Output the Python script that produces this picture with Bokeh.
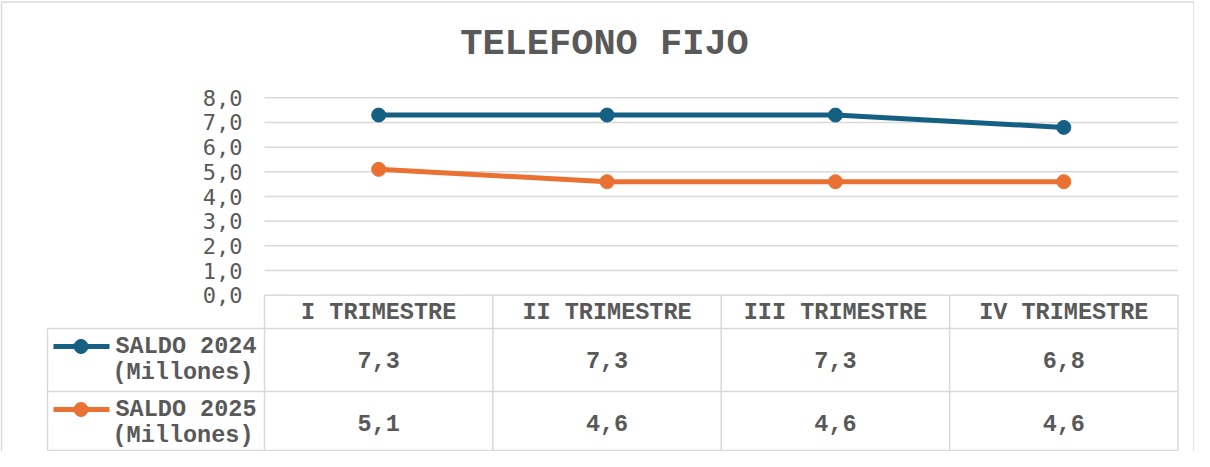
from bokeh.plotting import figure
from bokeh.models import Range1d
from bokeh.embed import file_html
from bokeh.resources import INLINE
from bokeh.core.properties import value

# ---------------- data ----------------
title = "TELEFONO FIJO"
categories = ["I TRIMESTRE", "II TRIMESTRE", "III TRIMESTRE", "IV TRIMESTRE"]
series_names = ["SALDO 2024", "SALDO 2025"]
series_unit = "(Millones)"
saldo_2024 = [7.3, 7.3, 7.3, 6.8]
saldo_2025 = [5.1, 4.6, 4.6, 4.6]
y_ticks = [0, 1, 2, 3, 4, 5, 6, 7, 8]

# ---------------- style / layout (page pixels) ----------------
BLUE = "#156082"
ORANGE = "#E97132"
TEXT = "#595959"
GRID = "#D9D9D9"
MONO_BOLD = "Liberation Mono"
TICK_FONT = "DejaVu Sans Mono"

W, H = 1194, 451
OFF = 8
PLOT_L, PLOT_R = 272.0, 1185.5
Y0_PX, YTOP_PX = 302.7, 105.3

ncat = len(categories)
colw = (PLOT_R - PLOT_L) / ncat
unit = (Y0_PX - YTOP_PX) / max(y_ticks)


def px2x(px):
    return (px - PLOT_L) / colw


def py2y(py):
    return (Y0_PX - py) / unit


p = figure(width=W, height=H,
           x_range=Range1d(px2x(OFF), px2x(OFF + W)),
           y_range=Range1d(py2y(OFF + H), py2y(OFF)),
           x_axis_type=None, y_axis_type=None,
           output_backend="svg", toolbar_location=None,
           min_border=0, outline_line_color=None,
           background_fill_color="white", border_fill_color="white")
p.grid.visible = False

# outer chart border (left, top, right)
bl, bt, br, bb = px2x(9), py2y(9.5), px2x(OFF + W - 0.5), py2y(OFF + H)
p.segment(x0=[bl, bl, br], y0=[bb, bt, bt], x1=[bl, br, br], y1=[bt, bt, bb],
          line_color=GRID, line_width=1.5)

# title
p.text(x=[px2x(612)], y=[py2y(51)], text=[title], text_align="center",
       text_baseline="middle", text_font=value(MONO_BOLD), text_font_style="bold",
       text_font_size="37px", text_color=TEXT)

# gridlines
p.segment(x0=[0] * len(y_ticks), x1=[ncat] * len(y_ticks), y0=y_ticks, y1=y_ticks,
          line_color=GRID, line_width=1.5)

# y tick labels
p.text(x=[px2x(250)] * len(y_ticks), y=y_ticks,
       text=[f"{t:.1f}".replace(".", ",") for t in y_ticks],
       text_align="right", text_baseline="middle", text_font=value(TICK_FONT),
       text_font_size="22px", text_color=TEXT)

# series
xs = [i + 0.5 for i in range(ncat)]
for vals, col in ((saldo_2024, BLUE), (saldo_2025, ORANGE)):
    p.line(xs, vals, line_color=col, line_width=5, line_join="round")
    p.scatter(xs, vals, size=14, fill_color=col, line_color=col, line_width=1)

# ---------------- data table ----------------
hdr_bot = py2y(336)
row1_bot = py2y(399)
tbl_bot = py2y(OFF + H - 1)
leg_l = px2x(55)

# vertical lines of the value columns
p.segment(x0=list(range(ncat + 1)), x1=list(range(ncat + 1)),
          y0=[0] * (ncat + 1), y1=[tbl_bot] * (ncat + 1),
          line_color=GRID, line_width=1.5)
# legend column left border
p.segment(x0=[leg_l], x1=[leg_l], y0=[hdr_bot], y1=[tbl_bot],
          line_color=GRID, line_width=1.5)
# horizontal lines
p.segment(x0=[leg_l] * 3, x1=[ncat] * 3, y0=[hdr_bot, row1_bot, tbl_bot],
          y1=[hdr_bot, row1_bot, tbl_bot], line_color=GRID, line_width=1.5)

# header labels
p.text(x=xs, y=[py2y(319.5)] * ncat, text=categories, text_align="center",
       text_baseline="middle", text_font=value(MONO_BOLD), text_font_style="bold",
       text_font_size="23.5px", text_color=TEXT)

# values and legend entries
row_val_py = [367.5, 430.5]
row_name_py = [354, 417]
row_unit_py = [380, 443]
for vals, col, name, vpy, npy, upy in zip((saldo_2024, saldo_2025), (BLUE, ORANGE),
                                          series_names, row_val_py, row_name_py, row_unit_py):
    p.text(x=xs, y=[py2y(vpy)] * ncat, text=[f"{v:.1f}".replace(".", ",") for v in vals],
           text_align="center", text_baseline="middle", text_font=value(MONO_BOLD),
           text_font_style="bold", text_font_size="23.5px", text_color=TEXT)
    p.line([px2x(61), px2x(117)], [py2y(npy)] * 2, line_color=col, line_width=5)
    p.scatter([px2x(88.5)], [py2y(npy)], size=14, fill_color=col, line_color=col)
    p.text(x=[px2x(264)], y=[py2y(npy)], text=[name], text_align="right",
           text_baseline="middle", text_font=value(MONO_BOLD), text_font_style="bold",
           text_font_size="23.5px", text_color=TEXT)
    p.text(x=[px2x(261)], y=[py2y(upy)], text=[series_unit], text_align="right",
           text_baseline="middle", text_font=value(MONO_BOLD), text_font_style="bold",
           text_font_size="23.5px", text_color=TEXT)

open("out.html", "w").write(file_html(p, INLINE))
